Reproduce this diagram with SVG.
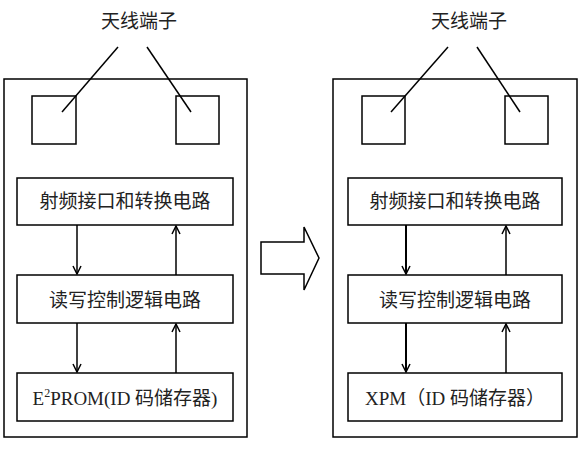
<svg xmlns="http://www.w3.org/2000/svg" width="585" height="450" viewBox="0 0 585 450">
<defs>
<marker id="ah" viewBox="0 0 10 10" refX="9" refY="5" markerWidth="10" markerHeight="10" markerUnits="userSpaceOnUse" orient="auto">
<path d="M1,1 L9,5 L1,9" fill="none" stroke="#000" stroke-width="1.5"/>
</marker>
<style>
.box{fill:#fff;stroke:#000;stroke-width:1.5}
.ln{stroke:#000;stroke-width:1.5;fill:none}
.t{font-family:"Liberation Serif","Noto Sans CJK SC",serif;font-size:19px;fill:#222;text-anchor:middle}
</style>
</defs>
<rect width="585" height="450" fill="#fff"/>
<g id="left-panel">
<rect class="box" x="4" y="79" width="243" height="358"/>
</g>
<g id="left-antenna-label"><text class="t" x="139" y="28">天线端子</text></g>
<g id="left-terminal-1"><rect class="box" x="32" y="96" width="44" height="48"/></g>
<g id="left-terminal-2"><rect class="box" x="176" y="96" width="43" height="48"/></g>
<g id="left-rf"><rect class="box" x="17" y="178" width="216" height="47"/><text class="t" x="125" y="208">射频接口和转换电路</text></g>
<g id="left-ctrl"><rect class="box" x="17" y="275" width="216" height="48"/><text class="t" x="125" y="307">读写控制逻辑电路</text></g>
<g id="left-mem"><rect class="box" x="17" y="373" width="216" height="48"/><text class="t" x="125" y="405">E<tspan font-size="12" dy="-8">2</tspan><tspan dy="8">PROM(ID 码储存器)</tspan></text></g>

<g id="right-panel">
<rect class="box" x="333" y="79" width="244" height="358"/>
</g>
<g id="right-antenna-label"><text class="t" x="469" y="28">天线端子</text></g>
<g id="right-terminal-1"><rect class="box" x="362" y="96" width="43" height="48"/></g>
<g id="right-terminal-2"><rect class="box" x="505" y="96" width="43" height="48"/></g>
<g id="right-rf"><rect class="box" x="348" y="178" width="214" height="47"/><text class="t" x="455" y="208">射频接口和转换电路</text></g>
<g id="right-ctrl"><rect class="box" x="348" y="275" width="214" height="48"/><text class="t" x="455" y="307">读写控制逻辑电路</text></g>
<g id="right-mem"><rect class="box" x="348" y="373" width="214" height="48"/><text class="t" x="455" y="405">XPM（ID 码储存器）</text></g>

<g id="transform-arrow">
<path class="ln" d="M261,242 H304 V227 L319,258 L304,290 V274 H261 Z" fill="#fff"/>
</g>

<g id="connectors">
<line class="ln" x1="118" y1="47" x2="62" y2="112"/>
<line class="ln" x1="147" y1="47" x2="191" y2="112"/>
<line class="ln" x1="448" y1="47" x2="391" y2="112"/>
<line class="ln" x1="477" y1="47" x2="520" y2="112"/>

<line class="ln" x1="77" y1="225" x2="77" y2="274" marker-end="url(#ah)"/>
<line class="ln" x1="176" y1="275" x2="176" y2="226" marker-end="url(#ah)"/>
<line class="ln" x1="77" y1="323" x2="77" y2="372" marker-end="url(#ah)"/>
<line class="ln" x1="176" y1="373" x2="176" y2="324" marker-end="url(#ah)"/>

<line class="ln" style="stroke-width:2" x1="406" y1="225" x2="406" y2="274" marker-end="url(#ah)"/>
<line class="ln" x1="506" y1="275" x2="506" y2="226" marker-end="url(#ah)"/>
<line class="ln" style="stroke-width:2" x1="406" y1="323" x2="406" y2="372" marker-end="url(#ah)"/>
<line class="ln" x1="506" y1="373" x2="506" y2="324" marker-end="url(#ah)"/>
</g>
</svg>
